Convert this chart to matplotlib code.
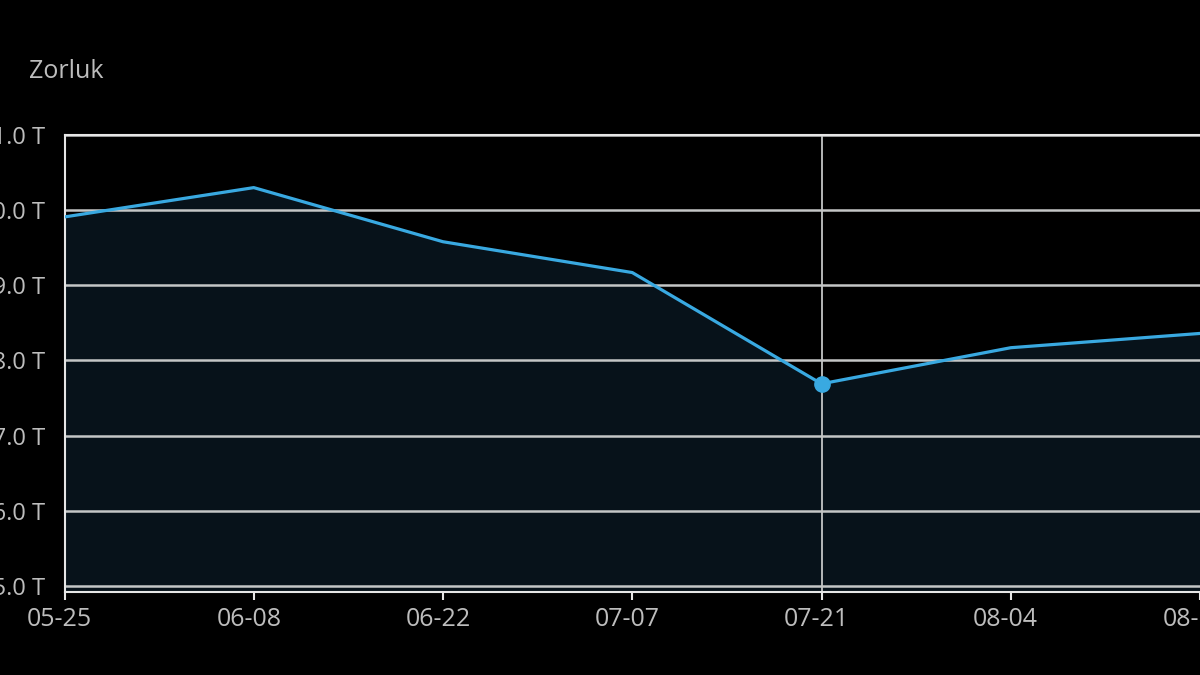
import matplotlib.pyplot as plt
from matplotlib.ticker import FuncFormatter
from matplotlib.transforms import ScaledTranslation

plt.rcParams['font.family'] = ['Open Sans', 'DejaVu Sans']

# Zorluk (difficulty), in T, one point per adjustment
dates = ["05-25", "06-08", "06-22", "07-07", "07-21", "08-04", "08-18"]
zorluk = [79.91, 80.30, 79.58, 79.17, 77.69, 78.17, 78.36]
y_ticks = [75, 76, 77, 78, 79, 80, 81]
hover_idx = 4

line_col = "#39a9e1"
fill_col = "#07121a"
grid_col = "#c4c6c6"
text_col = "#bdbdbd"

fig = plt.figure(figsize=(12, 6.75), dpi=100, facecolor="black")
ax = fig.add_axes([64.5 / 1200, 1 - 592 / 675, 1135.5 / 1200, (592 - 135) / 675])
ax.set_facecolor("black")

x = list(range(len(dates)))
ax.fill_between(x, zorluk, 74.92, color=fill_col, zorder=1)
ax.plot(x, zorluk, color=line_col, lw=2.3, zorder=3)
ax.axvline(hover_idx, color=grid_col, lw=1.3, zorder=2)
ax.plot(x[hover_idx], zorluk[hover_idx], "o", ms=11, color=line_col, zorder=4)

ax.set_xlim(0, 1135.5 / 192)
ax.set_ylim(74.92, 81.0)
ax.set_xticks(x)
ax.set_xticklabels(dates)
ax.set_yticks(y_ticks)
ax.yaxis.set_major_formatter(FuncFormatter(lambda v, p: f"{v:.1f} T"))
ax.yaxis.grid(True, color=grid_col, lw=1.8)

ax.spines["right"].set_visible(False)
for s in ["left", "top", "bottom"]:
    ax.spines[s].set_color("#e6e6e6")
    ax.spines[s].set_linewidth(1.5)

ax.tick_params(axis="x", colors="#e6e6e6", labelcolor=text_col, length=6, width=1.5,
               labelsize=18, pad=5)
ax.tick_params(axis="y", length=0, labelcolor=text_col, labelsize=17, pad=14)

# date labels sit a little left of their ticks in the original
shift = ScaledTranslation(-5 / 100, 0, fig.dpi_scale_trans)
for lab in ax.get_xticklabels():
    lab.set_transform(lab.get_transform() + shift)

fig.text(29 / 1200, 1 - 72 / 675, "Zorluk", color=text_col, fontsize=18, va="center", ha="left")

fig.savefig("out.png", dpi=100, facecolor="black")
